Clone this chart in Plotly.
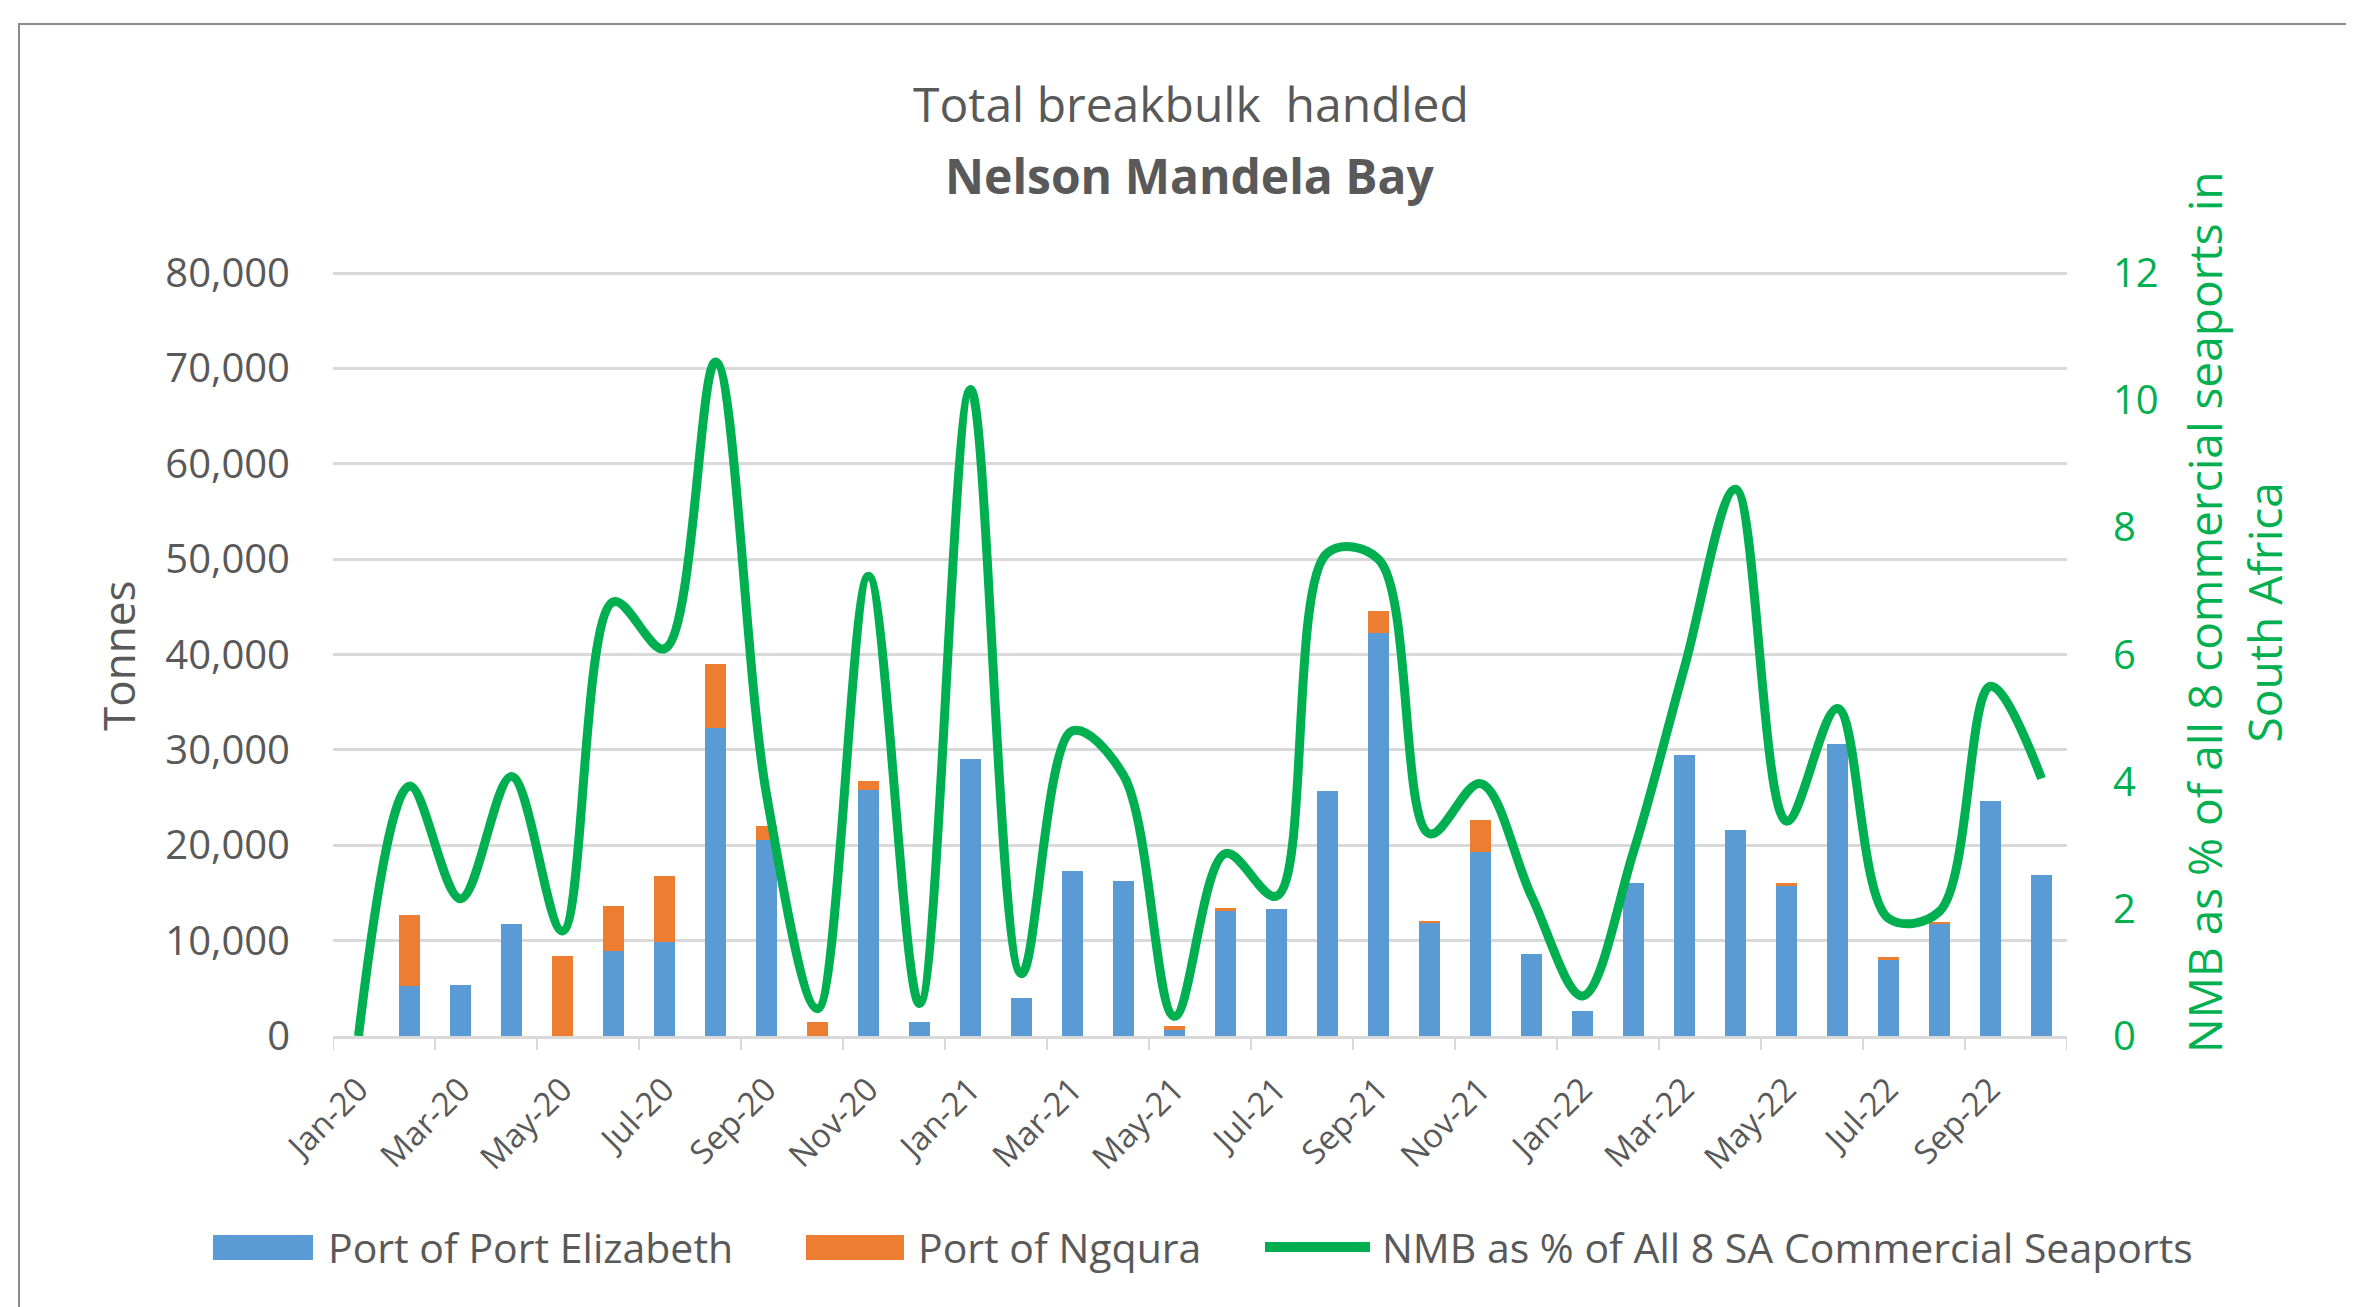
import plotly.graph_objects as go

months = ["Jan-20","Feb-20","Mar-20","Apr-20","May-20","Jun-20","Jul-20","Aug-20","Sep-20","Oct-20","Nov-20","Dec-20",
          "Jan-21","Feb-21","Mar-21","Apr-21","May-21","Jun-21","Jul-21","Aug-21","Sep-21","Oct-21","Nov-21","Dec-21",
          "Jan-22","Feb-22","Mar-22","Apr-22","May-22","Jun-22","Jul-22","Aug-22","Sep-22","Oct-22"]
port_elizabeth = [0, 5200, 5300, 11700, 0, 8900, 9900, 32300, 20500, 0, 25800, 1500,
                  29000, 4000, 17300, 16300, 600, 13100, 13300, 25700, 42300, 11900, 19300, 8600,
                  2600, 16000, 29500, 21600, 15700, 30600, 8000, 11800, 24600, 16900]
ngqura = [0, 7500, 0, 0, 8400, 4700, 6900, 6700, 1500, 1500, 900, 0,
          0, 0, 0, 0, 400, 300, 0, 0, 2300, 200, 3400, 0,
          0, 0, 0, 0, 300, 0, 300, 200, 0, 0]
nmb_pct = [0, 3.93, 2.16, 4.08, 1.65, 6.83, 6.09, 10.6, 3.8, 0.43, 7.23, 0.51,
           10.17, 0.98, 4.8, 4.1, 0.31, 2.87, 2.2, 7.6, 7.5, 3.18, 3.97, 2.2,
           0.63, 2.9, 5.8, 8.6, 3.38, 5.15, 1.85, 1.96, 5.5, 4.05]
left_ticks = [0, 10000, 20000, 30000, 40000, 50000, 60000, 70000, 80000]
right_ticks = [0, 2, 4, 6, 8, 10, 12]

BLUE = "#5B9BD5"
ORANGE = "#ED7D31"
GREEN = "#00B050"
TXT = "#595959"
GRID = "#D9D9D9"
FONT = "Open Sans"

x_idx = list(range(len(months)))

fig = go.Figure()
fig.add_trace(go.Bar(x=x_idx, y=port_elizabeth, name="Port of Port Elizabeth",
                     marker=dict(color=BLUE, line=dict(width=0)), width=0.42))
fig.add_trace(go.Bar(x=x_idx, y=ngqura, name="Port of Ngqura",
                     marker=dict(color=ORANGE, line=dict(width=0)), width=0.42))
fig.add_trace(go.Scatter(x=x_idx, y=nmb_pct, name="NMB as % of All 8 SA Commercial Seaports",
                         mode="lines", line=dict(color=GREEN, width=9, shape="spline", smoothing=1.0),
                         yaxis="y2"))

W, H = 2354, 1307
L, R, T, B = 325, 2059, 262, 1028
pw, ph = R - L, B - T

def px(X):
    return (X - L) / pw

def py(Y):
    return (B - Y) / ph

pad = 1.004
fig.update_layout(
    width=W, height=H,
    margin=dict(l=L, r=W - R, t=T, b=H - B),
    paper_bgcolor="white", plot_bgcolor="white",
    barmode="stack", showlegend=False,
    font=dict(family=FONT, color=TXT, size=38),
    xaxis=dict(range=[-0.5, len(months) - 0.5], tickmode="array",
               tickvals=x_idx[::2], ticktext=months[::2], tickangle=-45,
               tickfont=dict(size=33, color=TXT), showgrid=False, zeroline=False,
               showline=True, linecolor=GRID, linewidth=3,
               ticks="", ticklabelstandoff=18),
    yaxis=dict(range=[0, 80000 * pad], tickvals=left_ticks, tickformat=",",
               tickfont=dict(size=40, color=TXT), showgrid=True, gridcolor=GRID, gridwidth=3,
               zeroline=False, showline=False, ticks="", ticklabelstandoff=42),
    yaxis2=dict(range=[0, 12 * pad], tickvals=right_ticks, overlaying="y", side="right",
                tickfont=dict(size=40, color=GREEN), showgrid=False, zeroline=False,
                showline=False, ticks="", ticklabelstandoff=45),
)

# x-axis tick marks at category boundaries every two months
for i in range(0, len(months) + 1, 2):
    fig.add_shape(type="line", xref="x", yref="paper", x0=i - 0.5, x1=i - 0.5,
                  y0=0, y1=-14 / ph, line=dict(color=GRID, width=2))

annots = [
    dict(text="Total breakbulk  handled", x=px(1183), y=py(96), font=dict(size=48, color=TXT)),
    dict(text="<b>Nelson Mandela Bay</b>", x=px(1182), y=py(168), font=dict(size=48, color=TXT)),
    dict(text="Tonnes", x=px(110), y=py(648), textangle=-90, font=dict(size=44, color=TXT)),
    dict(text="NMB as % of all 8 commercial seaports in<br>South Africa", x=px(2226), y=py(605),
         textangle=-90, font=dict(size=46, color=GREEN)),
    dict(text="Port of Port Elizabeth", x=px(318), y=py(1239), xanchor="left", font=dict(size=41, color=TXT)),
    dict(text="Port of Ngqura", x=px(908), y=py(1239), xanchor="left", font=dict(size=41, color=TXT)),
    dict(text="NMB as % of All 8 SA Commercial Seaports", x=px(1372), y=py(1239), xanchor="left",
         font=dict(size=41, color=TXT)),
]
for a in annots:
    a.setdefault("xanchor", "center")
    fig.add_annotation(xref="paper", yref="paper", showarrow=False, yanchor="middle", **a)

# legend swatches
fig.add_shape(type="rect", xref="paper", yref="paper", x0=px(205), x1=px(305), y0=py(1252), y1=py(1227),
              fillcolor=BLUE, line=dict(width=0))
fig.add_shape(type="rect", xref="paper", yref="paper", x0=px(798), x1=px(896), y0=py(1252), y1=py(1227),
              fillcolor=ORANGE, line=dict(width=0))
fig.add_shape(type="line", xref="paper", yref="paper", x0=px(1257), x1=px(1362), y0=py(1239), y1=py(1239),
              line=dict(color=GREEN, width=10))

# chart frame
fig.add_shape(type="rect", xref="paper", yref="paper", x0=px(11), x1=px(2370), y0=py(1320), y1=py(16),
              line=dict(color="#8C8C8C", width=2), fillcolor="rgba(0,0,0,0)", layer="below")

fig.write_html("out.html")
